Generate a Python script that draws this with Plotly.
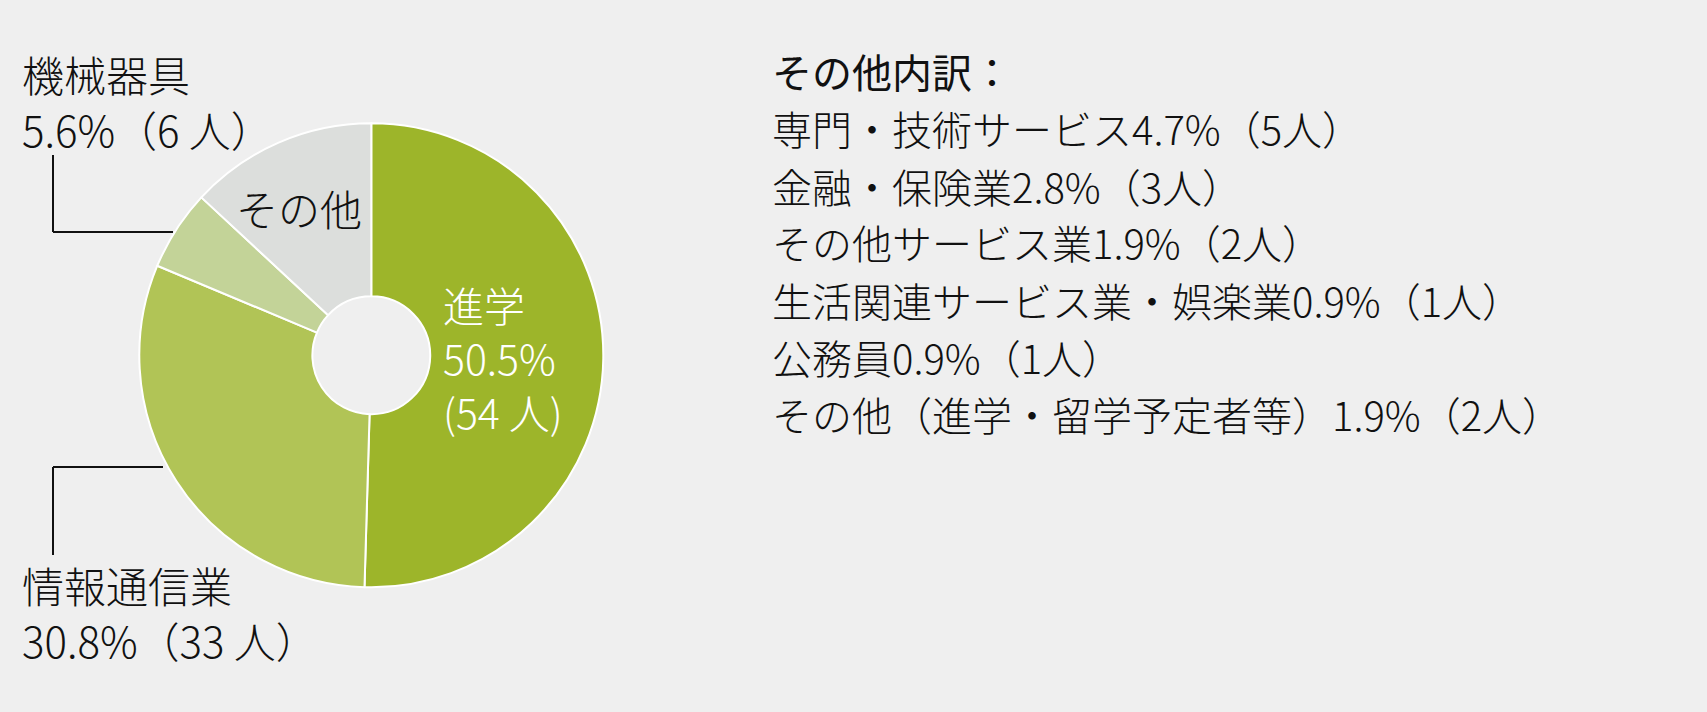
import plotly.graph_objects as go

# 卒業後の進路（人数）
categories = ['進学', '情報通信業', '機械器具', 'その他']
counts = [54, 33, 6, 14]
colors = ['#9db52a', '#b1c456', '#c3d398', '#dcdedc']

# その他の内訳
other_items = ['専門・技術サービス', '金融・保険業', 'その他サービス業',
               '生活関連サービス業・娯楽業', '公務員', 'その他（進学・留学予定者等）']
other_counts = [5, 3, 2, 1, 1, 2]

W, H = 1707, 712
FONT = 'Noto Sans CJK JP'
total = sum(counts)


def pct(n):
    return f'{n / total * 100:.1f}%'


def px(x):
    return x / W


def py(y):
    return 1 - y / H


# pie geometry (pixels)
cx, cy, r = 371.3, 355.3, 232

fig = go.Figure(go.Pie(
    labels=categories,
    values=counts,
    marker=dict(colors=colors, line=dict(color='white', width=2)),
    hole=0.254,
    sort=False,
    direction='clockwise',
    rotation=0,
    textinfo='none',
    hoverinfo='label+value+percent',
    showlegend=False,
    domain=dict(x=[px(cx - r), px(cx + r)], y=[py(cy + r), py(cy - r)]),
))

dark = dict(family=FONT, size=42, color='#111111', weight=300)
annotations = []
# labels on the pie
annotations.append(dict(
    x=px(441), y=py(357), xanchor='left', yanchor='middle', align='left',
    text=f'{categories[0]}<br>{pct(counts[0])}<br>({counts[0]} 人)',
    font=dict(family=FONT, size=41, color='white', weight=300), showarrow=False))
annotations.append(dict(
    x=px(298.5), y=py(207.5), xanchor='center', yanchor='middle',
    text=categories[3], font=dark, showarrow=False))
# outside labels
annotations.append(dict(
    x=px(20), y=py(101), xanchor='left', yanchor='middle', align='left',
    text=f'{categories[2]}<br>{pct(counts[2])}（{counts[2]} 人）',
    font=dark, showarrow=False))
annotations.append(dict(
    x=px(20), y=py(611.5), xanchor='left', yanchor='middle', align='left',
    text=f'{categories[1]}<br>{pct(counts[1])}（{counts[1]} 人）',
    font=dark, showarrow=False))

# breakdown list on the right
lines = ['その他内訳：'] + [f'{name}{pct(n)}（{n}人）' for name, n in zip(other_items, other_counts)]
for i, line in enumerate(lines):
    annotations.append(dict(
        x=px(770), y=py(71.5 + 57 * i), xanchor='left', yanchor='middle', align='left',
        text=line,
        font=dict(family=FONT, size=40, color='#111111', weight=400 if i == 0 else 300),
        showarrow=False))

# leader lines
line_style = dict(color='#111111', width=2)
shapes = [
    dict(type='line', xref='paper', yref='paper', x0=px(53), y0=py(155), x1=px(53), y1=py(232), line=line_style),
    dict(type='line', xref='paper', yref='paper', x0=px(53), y0=py(232), x1=px(173), y1=py(232), line=line_style),
    dict(type='line', xref='paper', yref='paper', x0=px(53), y0=py(467), x1=px(163), y1=py(467), line=line_style),
    dict(type='line', xref='paper', yref='paper', x0=px(53), y0=py(467), x1=px(53), y1=py(555), line=line_style),
]

fig.update_layout(
    width=W, height=H,
    margin=dict(l=0, r=0, t=0, b=0),
    paper_bgcolor='#efefef',
    plot_bgcolor='#efefef',
    font=dict(family=FONT),
    annotations=annotations,
    shapes=shapes,
)

fig.write_html('out.html', config={'displayModeBar': False},
               post_script="document.body.style.margin='0';document.body.style.background='#efefef';")
